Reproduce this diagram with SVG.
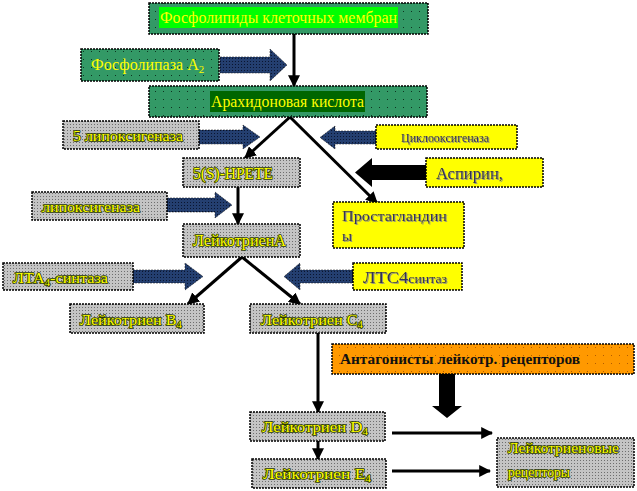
<svg xmlns="http://www.w3.org/2000/svg" width="637" height="491" viewBox="0 0 637 491" font-family="'Liberation Serif', 'Times New Roman', serif">
<defs>
<pattern id="pGreen" width="8" height="8" patternUnits="userSpaceOnUse"><rect width="8" height="8" fill="#339966"/><rect x="3" y="3" width="1" height="1" fill="#0d3320"/></pattern>
<pattern id="pGray" width="3" height="3" patternUnits="userSpaceOnUse"><rect width="3" height="3" fill="#c4c4c4"/><rect x="1" y="1" width="1" height="1" fill="#6e6e6e"/></pattern>
<pattern id="pBlue" width="3" height="3" patternUnits="userSpaceOnUse"><rect width="3" height="3" fill="#243f70"/><rect x="1" y="1" width="1" height="1" fill="#0a1530"/></pattern>
<pattern id="pOrange" width="8" height="8" patternUnits="userSpaceOnUse"><rect width="8" height="8" fill="#ff9900"/><rect x="3" y="3" width="1" height="1" fill="#b35c00"/></pattern>
<filter id="shg" x="-5%" y="-20%" width="110%" height="140%"><feDropShadow dx="1" dy="1" stdDeviation="0" flood-color="#888888" flood-opacity="0.9"/></filter>
<marker id="ah" viewBox="0 0 10 10" refX="9" refY="5" markerWidth="4" markerHeight="4" orient="auto" markerUnits="strokeWidth"><path d="M0,0 L10,5 L0,10 z" fill="#000"/></marker>
</defs>
<style>
.box{stroke:#000;stroke-width:1.5;stroke-dasharray:2 1}
.g{fill:url(#pGreen)}
.gr{fill:url(#pGray)}
.y{fill:#ffff00}
.o{fill:url(#pOrange)}
text{font-family:"Liberation Serif","Times New Roman",serif}
.ty{fill:#ffff00;font-size:16px}
.tg{fill:#ffff00;font-size:15px;stroke:#2a3a00;stroke-width:1.6px;paint-order:stroke;stroke-linejoin:round}
.td{fill:#333355;font-size:15px;filter:url(#shg)}
.ln{stroke:#000;stroke-width:3;fill:none;marker-end:url(#ah)}
.ba{fill:url(#pBlue);stroke:#000;stroke-width:0.5;stroke-dasharray:2 1}
.bk{fill:#000}
</style>

<g id="connectors">
<line class="ln" x1="294" y1="34" x2="294" y2="86"/>
<line class="ln" x1="290" y1="117" x2="245" y2="158"/>
<line class="ln" x1="290" y1="117" x2="377" y2="203"/>
<line class="ln" x1="238" y1="187" x2="238" y2="224"/>
<line class="ln" x1="242" y1="257" x2="188" y2="304"/>
<line class="ln" x1="242" y1="257" x2="300" y2="304"/>
<line class="ln" x1="318" y1="333" x2="318" y2="412"/>
<line class="ln" x1="318" y1="441" x2="318" y2="459"/>
<line class="ln" x1="392" y1="433" x2="492" y2="433"/>
<line class="ln" x1="392" y1="471" x2="490" y2="471"/>
<polygon id="arrow-pla2" class="ba" points="220,57 270,57 270,49 287,65 270,81 270,73 220,73"/>
<polygon id="arrow-5lox" class="ba" points="199,130 243,130 243,125 260,137 243,149 243,144 199,144"/>
<polygon id="arrow-cox" class="ba" points="376,131 335,131 335,126 320,137.5 335,149 335,144 376,144"/>
<polygon id="arrow-asp" class="bk" points="426,165 372,165 372,158 355,172.5 372,187 372,180 426,180"/>
<polygon id="arrow-lox" class="ba" points="167,198 215,198 215,192 232,205 215,218 215,212 167,212"/>
<polygon id="arrow-lta4" class="ba" points="133,270 185,270 185,263 203,276.5 185,290 185,283 133,283"/>
<polygon id="arrow-ltc4" class="ba" points="353,270 300,270 300,263 284,276.5 300,290 300,283 353,283"/>
<polygon id="arrow-antag" class="bk" points="439,374 455,374 455,406 462,406 447,418 432,406 439,406"/>
</g>

<g id="phospholipids">
<rect class="box g" x="149" y="3" width="279" height="31"/>
<rect x="159" y="7" width="239" height="21" fill="#00ff00"/>
<text class="ty" x="160" y="23" textLength="237" lengthAdjust="spacingAndGlyphs">Фосфолипиды клеточных мембран</text>
</g>

<g id="pla2">
<rect class="box g" x="81" y="49" width="138" height="32"/>
<text class="ty" x="91" y="70">Фосфолипаза А<tspan font-size="11" dy="3">2</tspan></text>
</g>

<g id="arachidonic">
<rect class="box g" x="149" y="86" width="278" height="31"/>
<rect x="210" y="91" width="155" height="21" fill="#006600"/>
<text class="ty" x="211" y="107" textLength="153" lengthAdjust="spacingAndGlyphs">Арахидоновая кислота</text>
</g>

<g id="lox5">
<rect class="box gr" x="63" y="121" width="136" height="28"/>
<text class="tg" x="73" y="141" textLength="110" lengthAdjust="spacingAndGlyphs">5 липоксигеназа</text>
</g>

<g id="cox">
<rect class="box y" x="376" y="125" width="141" height="24"/>
<text class="td" x="401" y="142" style="font-size:12px" textLength="88" lengthAdjust="spacingAndGlyphs">Циклооксигеназа</text>
</g>

<g id="hpete">
<rect class="box gr" x="183" y="158" width="117" height="29"/>
<text class="tg" x="193" y="179" style="font-size:16px" textLength="80" lengthAdjust="spacingAndGlyphs">5(S)-HPETE</text>
</g>

<g id="aspirin">
<rect class="box y" x="426" y="158" width="117" height="29"/>
<text class="td" x="436" y="179" style="font-size:16px" textLength="67" lengthAdjust="spacingAndGlyphs">Аспирин,</text>
</g>

<g id="lox">
<rect class="box gr" x="32" y="192" width="135" height="28"/>
<text class="tg" x="42" y="212" textLength="98" lengthAdjust="spacingAndGlyphs">липоксигеназа</text>
</g>

<g id="prostaglandins">
<rect class="box y" x="333" y="202" width="131" height="46"/>
<text class="td" x="342" y="221" textLength="105" lengthAdjust="spacingAndGlyphs">Простагландин</text>
<text class="td" x="342" y="241">ы</text>
</g>

<g id="lta">
<rect class="box gr" x="183" y="224" width="117" height="33"/>
<text class="tg" x="193" y="246" style="font-size:16px" textLength="93" lengthAdjust="spacingAndGlyphs">ЛейкотриенА</text>
</g>

<g id="lta4-synthase">
<rect class="box gr" x="3" y="263" width="130" height="27"/>
<text class="tg" x="13" y="283" textLength="95" lengthAdjust="spacingAndGlyphs">ЛТА<tspan style="font-size:10px" dy="3">4</tspan><tspan dy="-3">-синтаза</tspan></text>
</g>

<g id="ltc4-synthase">
<rect class="box y" x="353" y="263" width="109" height="27"/>
<text class="td" x="363" y="283" style="font-size:16px" textLength="84" lengthAdjust="spacingAndGlyphs">ЛТС4<tspan style="font-size:12px">синтаз</tspan></text>
</g>

<g id="ltb4">
<rect class="box gr" x="70" y="304" width="134" height="29"/>
<text class="tg" x="80" y="325" textLength="102" lengthAdjust="spacingAndGlyphs">Лейкотриен В<tspan style="font-size:10px" dy="3">4</tspan></text>
</g>

<g id="ltc4">
<rect class="box gr" x="250" y="304" width="136" height="29"/>
<text class="tg" x="261" y="325" textLength="102" lengthAdjust="spacingAndGlyphs">Лейкотриен С<tspan style="font-size:10px" dy="3">4</tspan></text>
</g>

<g id="antagonists">
<rect class="box o" x="332" y="344" width="302" height="30"/>
<text x="340" y="364" style="font-size:15px;font-weight:bold;fill:#111" textLength="240" lengthAdjust="spacingAndGlyphs">Антагонисты  лейкотр. рецепторов</text>
</g>

<g id="ltd4">
<rect class="box gr" x="250" y="412" width="135" height="29"/>
<text class="tg" x="262" y="432" textLength="106" lengthAdjust="spacingAndGlyphs">Лейкотриен D<tspan style="font-size:10px" dy="3">4</tspan></text>
</g>

<g id="lte4">
<rect class="box gr" x="252" y="459" width="134" height="29"/>
<text class="tg" x="263" y="479" textLength="108" lengthAdjust="spacingAndGlyphs">Лейкотриен Е<tspan style="font-size:10px" dy="3">4</tspan></text>
</g>

<g id="receptors">
<rect class="box gr" x="497" y="438" width="137" height="49"/>
<text class="tg" x="508" y="453" textLength="111" lengthAdjust="spacingAndGlyphs">Лейкотриеновые</text>
<text class="tg" x="508" y="477" textLength="62" lengthAdjust="spacingAndGlyphs">рецепторы</text>
</g>
</svg>
